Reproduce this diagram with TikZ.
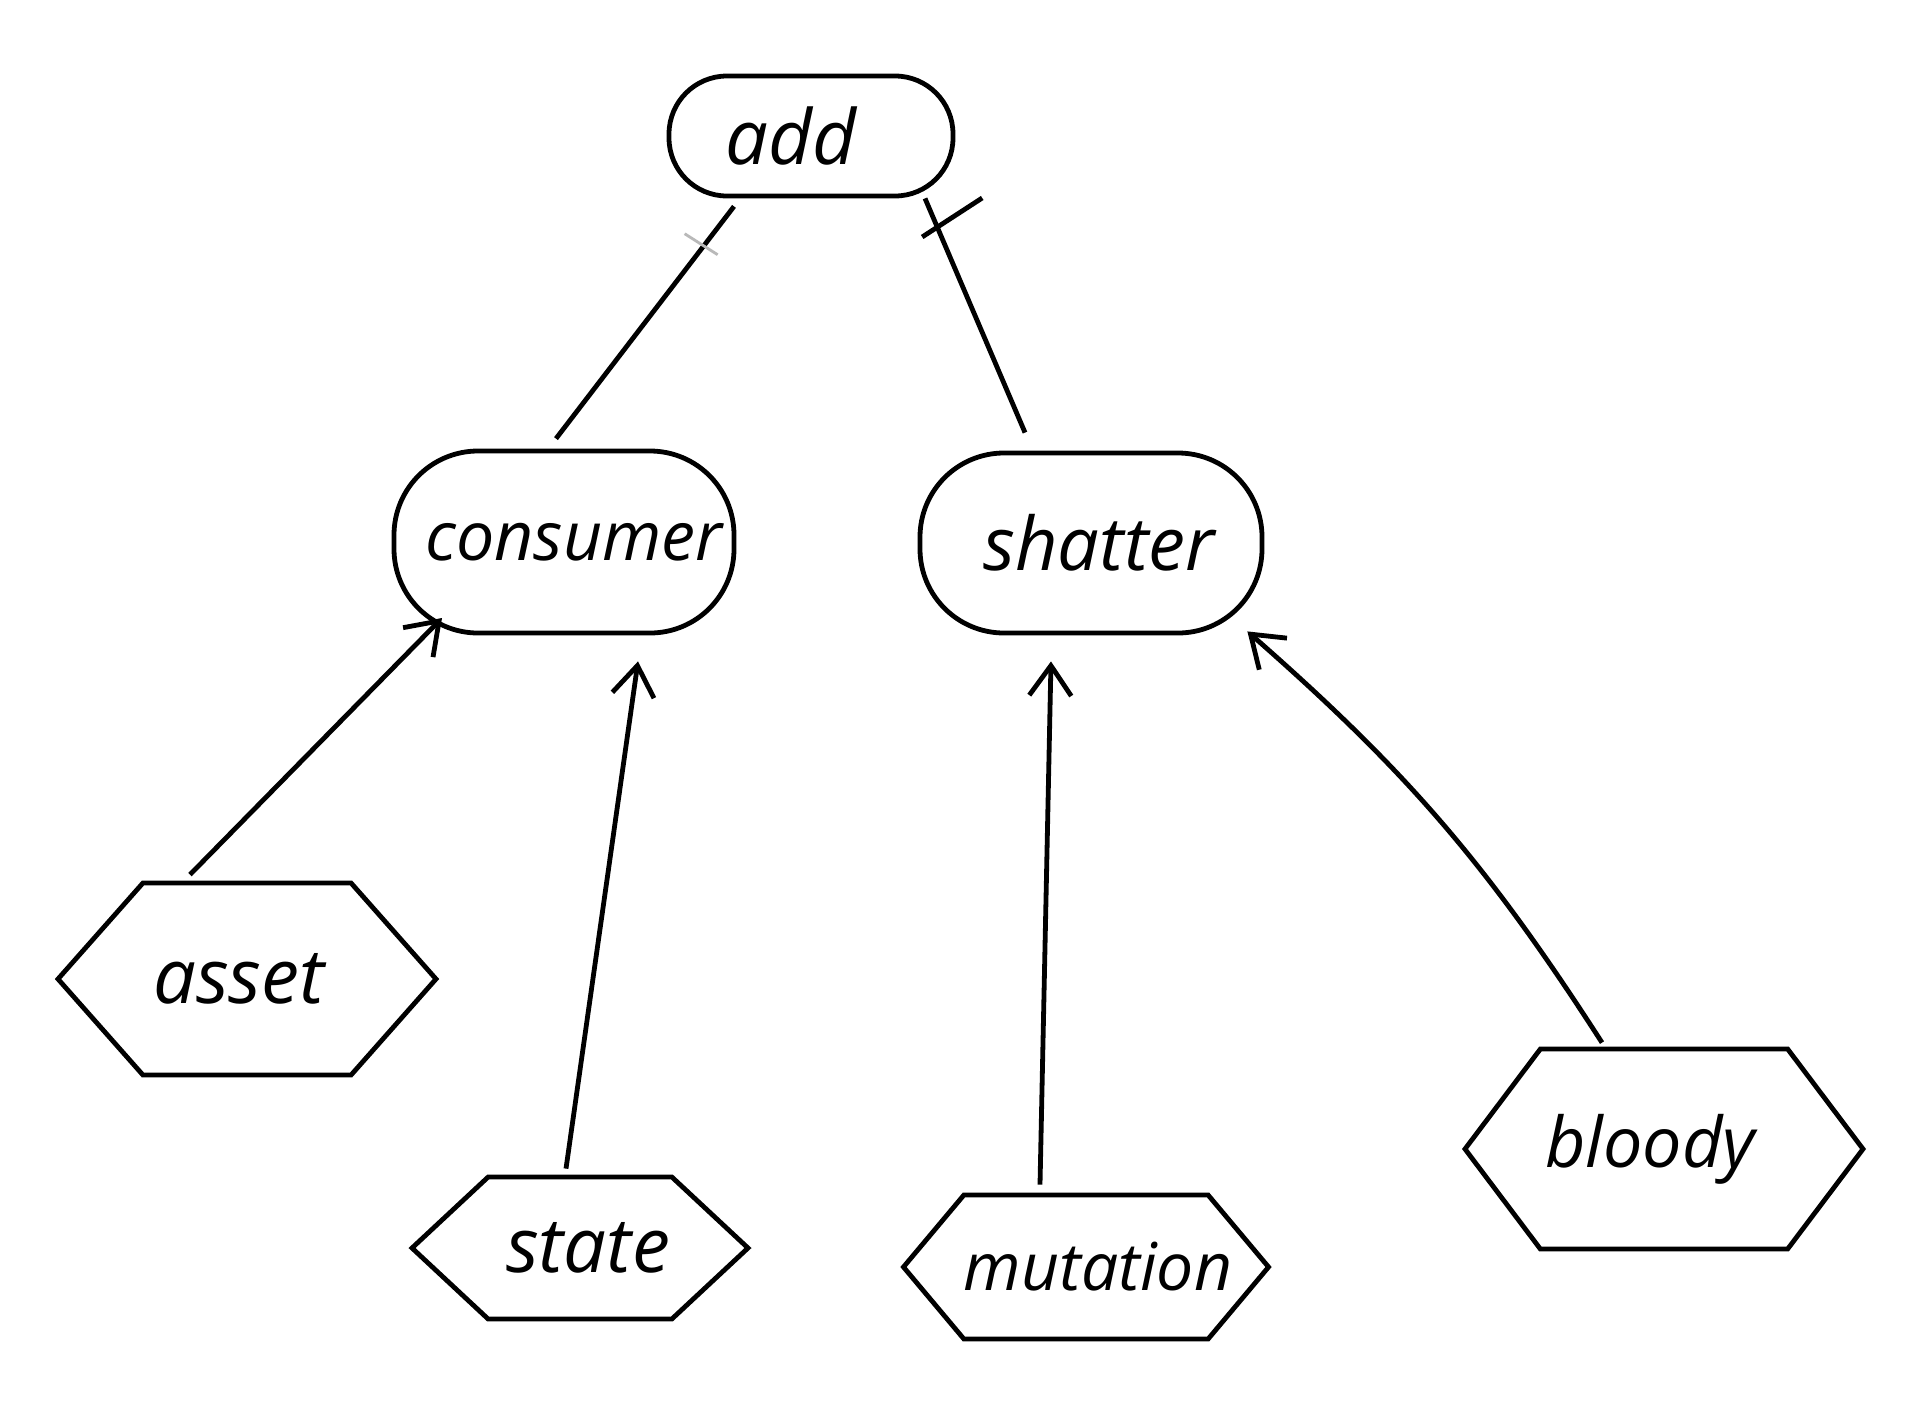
\documentclass[tikz,border=0pt]{standalone}
\usepackage{fontspec}
\setmainfont{Open Sans}
\usetikzlibrary{arrows.meta,shapes.symbols}
\begin{document}
\begin{tikzpicture}[x=0.5pt,y=-0.5pt,
  fs/.style={font=\itshape\fontsize{#1}{#1}\selectfont},
  blob/.style={draw, line width=2.4pt, rectangle, inner sep=0pt},
  hexa/.style={draw, line width=2.4pt, shape=signal, signal to=west and east, inner sep=0pt},
  link/.style={line width=2.4pt},
  flow/.style={line width=2.4pt, -{Straight Barb[length=15pt,width=21pt,line width=2.4pt]}},
]
\useasboundingbox (0,0) rectangle (1917,1409);
\fill[white] (0,0) rectangle (1917,1409);

\node[blob, fs=38, rounded corners=29pt, minimum width=142pt, minimum height=60pt] (add) at (811,136) {\raisebox{-5pt}{add}\hspace*{20pt}};
\node[blob, fs=34, rounded corners=42pt, minimum width=170pt, minimum height=91pt] (consumer) at (564,542) {\raisebox{-4pt}{\hspace*{10pt}consumer}};
\node[blob, fs=37, rounded corners=42pt, minimum width=171pt, minimum height=90pt] (shatter) at (1091,543) {\raisebox{-2pt}{\hspace*{8pt}shatter}};

\node[hexa, fs=38, signal pointer angle=97, minimum width=189pt, minimum height=96pt] (asset) at (247,979) {asset\hspace*{8pt}};
\node[hexa, fs=38, signal pointer angle=86, minimum width=168pt, minimum height=71pt] (state) at (580,1248) {\hspace*{8pt}state};
\node[hexa, fs=33, inner xsep=-12pt, signal pointer angle=100, minimum width=179pt, minimum height=72pt] (mutation) at (1086,1267) {\hspace*{12pt}mutation};
\node[hexa, fs=35, signal pointer angle=106, minimum width=199pt, minimum height=100pt] (bloody) at (1664,1149) {\raisebox{-4pt}{bloody\hspace*{14pt}}};

\draw[link] ([shift={(-8,-10)}]consumer.north) -- coordinate[pos=0.835] (t1) ([shift={(-77,8)}]add.south);
\draw[gray!55, line width=1.4pt] ([shift={(-20,-11)}]t1) -- ([shift={(13,10)}]t1);
\draw[link] ([shift={(-66,-18)}]shatter.north) -- coordinate[pos=0.878] (t2) ([shift={(114,0)}]add.south);
\draw[link] ([shift={(-15,10)}]t2) -- ([shift={(45,-29)}]t2);

\draw[flow] ([shift={(-57,-6)}]asset.north) -- ([shift={(-122,76)}]consumer.center);
\draw[flow] ([shift={(-14,-6)}]state.north) -- ([shift={(74,26)}]consumer.south);
\draw[flow] ([shift={(-46,-8)}]mutation.north) -- ([shift={(-40,26)}]shatter.south);
\draw[flow] ([shift={(-62,-4)}]bloody.north) to[bend right=8] ([shift={(-17,-4)}]shatter.south east);
\end{tikzpicture}
\end{document}
